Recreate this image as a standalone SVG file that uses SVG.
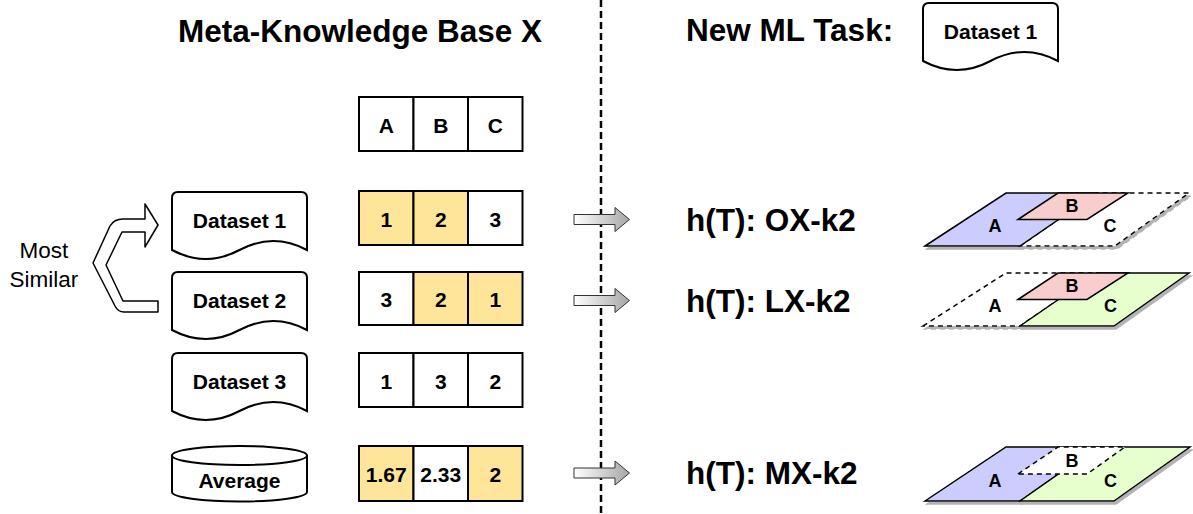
<svg xmlns="http://www.w3.org/2000/svg" width="1193" height="514" viewBox="0 0 1193 514">
<defs>
<linearGradient id="gArrow" x1="0" y1="0" x2="1" y2="0">
<stop offset="0" stop-color="#ffffff"/>
<stop offset="1" stop-color="#a6a6a6"/>
</linearGradient>
<filter id="shadow" x="-10%" y="-10%" width="130%" height="140%">
<feDropShadow dx="2" dy="3" stdDeviation="0.6" flood-color="#808080" flood-opacity="0.6"/>
</filter>
</defs>
<style>
text{font-family:"Liberation Sans",Arial,sans-serif;fill:#000}
.title{font-size:31.5px;font-weight:bold}
.lbl{font-size:21px;font-weight:bold;text-anchor:middle}
.pl{font-size:18px;font-weight:bold;text-anchor:middle}
.cell{stroke:#000;stroke-width:2;fill:#fff}
.y{fill:#FFE599}
.doc{stroke:#000;stroke-width:2;fill:#fff}
.ga{stroke:#333;stroke-width:1;fill:url(#gArrow)}
.solid{stroke:#000;stroke-width:1.5}
.dash{stroke:#000;stroke-width:1.5;stroke-dasharray:5 4;fill:#fff}
</style>
<rect width="1193" height="514" fill="#fff"/>
<line x1="601" y1="0" x2="601" y2="514" stroke="#000" stroke-width="2.5" stroke-dasharray="7 4"/>

<text class="title" x="360" y="41.5" text-anchor="middle">Meta-Knowledge Base X</text>
<text class="title" x="686" y="41">New ML Task:</text>

<g id="task-dataset">
<path class="doc" d="M923,61 L923,9 Q923,3 929,3 L1052,3 Q1058,3 1058,9 L1058,61 Q1024.25,43 990.5,61 Q956.75,79 923,61 Z"/>
<text class="lbl" x="990.5" y="39">Dataset 1</text>
</g>

<g id="header">
<rect class="cell" x="359" y="97" width="54.5" height="54"/>
<rect class="cell" x="413.5" y="97" width="54.5" height="54"/>
<rect class="cell" x="468" y="97" width="54.5" height="54"/>
<text class="lbl" x="386.25" y="132.5">A</text>
<text class="lbl" x="440.75" y="132.5">B</text>
<text class="lbl" x="495.25" y="132.5">C</text>
</g>

<g id="dataset1">
<path class="doc" d="M172,250 L172,198 Q172,192 178,192 L301,192 Q307,192 307,198 L307,250 Q273.25,232 239.5,250 Q205.75,268 172,250 Z"/>
<text class="lbl" x="239.5" y="228">Dataset 1</text>
</g>
<g id="row1">
<rect class="cell y" x="359" y="191" width="54.5" height="54"/>
<rect class="cell y" x="413.5" y="191" width="54.5" height="54"/>
<rect class="cell" x="468" y="191" width="54.5" height="54"/>
<text class="lbl" x="386.25" y="226.5">1</text>
<text class="lbl" x="440.75" y="226.5">2</text>
<text class="lbl" x="495.25" y="226.5">3</text>
</g>

<g id="dataset2">
<path class="doc" d="M172,330 L172,278 Q172,272 178,272 L301,272 Q307,272 307,278 L307,330 Q273.25,312 239.5,330 Q205.75,348 172,330 Z"/>
<text class="lbl" x="239.5" y="308">Dataset 2</text>
</g>
<g id="row2">
<rect class="cell" x="359" y="272" width="54.5" height="53"/>
<rect class="cell y" x="413.5" y="272" width="54.5" height="53"/>
<rect class="cell y" x="468" y="272" width="54.5" height="53"/>
<text class="lbl" x="386.25" y="306.5">3</text>
<text class="lbl" x="440.75" y="306.5">2</text>
<text class="lbl" x="495.25" y="306.5">1</text>
</g>

<g id="dataset3">
<path class="doc" d="M172,411 L172,359 Q172,353 178,353 L301,353 Q307,353 307,359 L307,411 Q273.25,393 239.5,411 Q205.75,429 172,411 Z"/>
<text class="lbl" x="239.5" y="389">Dataset 3</text>
</g>
<g id="row3">
<rect class="cell" x="359" y="353" width="54.5" height="54"/>
<rect class="cell" x="413.5" y="353" width="54.5" height="54"/>
<rect class="cell" x="468" y="353" width="54.5" height="54"/>
<text class="lbl" x="386.25" y="388.5">1</text>
<text class="lbl" x="440.75" y="388.5">3</text>
<text class="lbl" x="495.25" y="388.5">2</text>
</g>

<g id="average">
<path class="doc" d="M172,455.5 A67.5,9.5 0 0 1 307,455.5 L307,492 A67.5,9.5 0 0 1 172,492 Z"/>
<path d="M172,455.5 A67.5,9.5 0 0 0 307,455.5" fill="none" stroke="#000" stroke-width="2"/>
<text class="lbl" x="239.5" y="488">Average</text>
</g>
<g id="row4">
<rect class="cell y" x="359" y="446" width="54.5" height="55"/>
<rect class="cell" x="413.5" y="446" width="54.5" height="55"/>
<rect class="cell y" x="468" y="446" width="54.5" height="55"/>
<text class="lbl" x="386.25" y="481.5">1.67</text>
<text class="lbl" x="440.75" y="481.5">2.33</text>
<text class="lbl" x="495.25" y="481.5">2</text>
</g>

<g id="most-similar">
<text x="44" y="258" font-size="22.5" text-anchor="middle">Most</text>
<text x="44" y="286.5" font-size="22.5" text-anchor="middle">Similar</text>
</g>

<g id="connectors">
<path d="M145,219 L123,219 Q114,219 110,226 L93,263 L115,306 Q118,312 124,312 L158,312 L158,301 L123,301 L106,265 L122,232 L145,232 L145,247 L158,225 L145,204 Z" fill="#fff" stroke="#000" stroke-width="1.5" stroke-linejoin="round"/>
<path class="ga" d="M574,214.5 L615,214.5 L615,207.5 L629.5,219.5 L615,231.5 L615,224.5 L574,224.5 Z"/>
<path class="ga" d="M574,295.5 L615,295.5 L615,288.5 L629.5,300.5 L615,312.5 L615,305.5 L574,305.5 Z"/>
<path class="ga" d="M574,468 L615,468 L615,461 L629.5,473 L615,485 L615,478 L574,478 Z"/>
</g>

<g id="h1">
<text class="title" x="686" y="230.5">h(T): OX-k2</text>
</g>
<g id="h2">
<text class="title" x="686" y="311.5">h(T): LX-k2</text>
</g>
<g id="h3">
<text class="title" x="686" y="484">h(T): MX-k2</text>
</g>

<g id="plane1" filter="url(#shadow)">
<polygon class="dash" points="1020,246 1097,193 1189,193 1115,246"/>
<polygon class="solid" fill="#CCCCFF" points="925,246 1006,193 1097,193 1020,246"/>
<polygon class="solid" fill="#F8CECC" points="1018,219.5 1058,193 1128,193 1087,219.5"/>
</g>
<g id="plane1-labels">
<text class="pl" x="995" y="231.5">A</text>
<text class="pl" x="1072" y="211.5">B</text>
<text class="pl" x="1110" y="231.5">C</text>
</g>

<g id="plane2" filter="url(#shadow)">
<polygon class="dash" points="923,326 1006,273 1097,273 1020,326"/>
<polygon class="solid" fill="#E6FFCC" points="1020,326 1097,273 1189,273 1114,326"/>
<polygon class="solid" fill="#F8CECC" points="1018,299.5 1058,273 1128,273 1087,299.5"/>
</g>
<g id="plane2-labels">
<text class="pl" x="995" y="311.5">A</text>
<text class="pl" x="1072" y="291.5">B</text>
<text class="pl" x="1110.5" y="311.5">C</text>
</g>

<g id="plane3" filter="url(#shadow)">
<polygon class="solid" fill="#CCCCFF" points="925,501 1006,447 1097,447 1020,501"/>
<polygon class="solid" fill="#E6FFCC" points="1020,501 1097,447 1190,447 1114,501"/>
<polygon class="dash" points="1018,474 1058,447 1125,447 1087,474"/>
</g>
<g id="plane3-labels">
<text class="pl" x="995" y="486.5">A</text>
<text class="pl" x="1072" y="467">B</text>
<text class="pl" x="1110.5" y="486.5">C</text>
</g>
</svg>
